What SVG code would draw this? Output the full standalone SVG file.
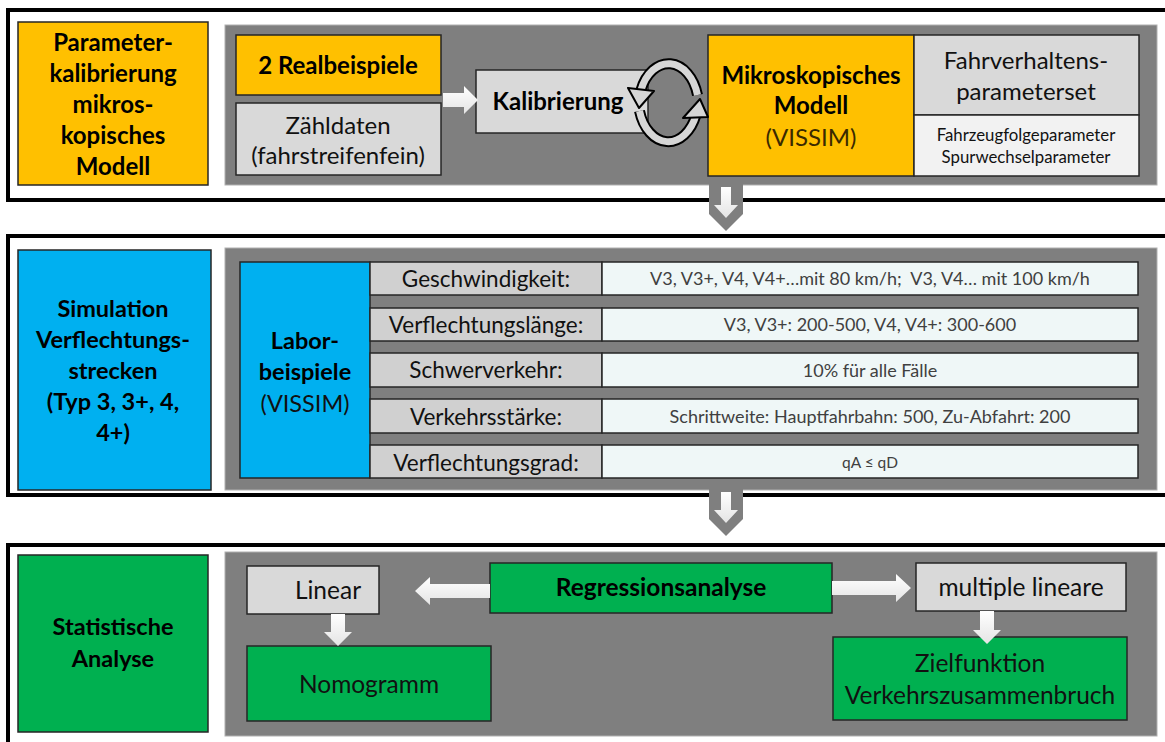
<svg xmlns="http://www.w3.org/2000/svg" width="1165" height="742" viewBox="0 0 1165 742">
<defs>
<linearGradient id="wg" x1="0" y1="0" x2="0" y2="1"><stop offset="0" stop-color="#ffffff"/><stop offset="1" stop-color="#e4e4e4"/></linearGradient>
</defs>
<style>
text{font-family:Lato,"Liberation Sans",sans-serif;text-anchor:middle;}
.b{font-weight:bold;fill:#000;font-size:24px;}
.r{fill:#111;font-size:24px;}
.border{fill:none;stroke:#000;stroke-width:4;}
.panel{fill:#7f7f7f;stroke:#b0b0b0;stroke-width:1;}
.box{stroke:#262626;stroke-width:1.5;}
.or{fill:#ffc000;}
.bl{fill:#00b0f0;}
.gr{fill:#00b050;}
.lg{fill:#d9d9d9;}
.vl{fill:#f2f2f2;}
.lab{fill:#d0d0d0;}
.val{fill:#eff7f7;}
.arr{fill:url(#wg);stroke:none;}
.lbl{font-size:22.5px;fill:#111;}
.vt{font-size:18px;fill:#404040;}
.s3{font-size:24.5px;}
.cyc{fill:none;stroke:#000;stroke-width:11;}
.cyi{fill:none;stroke:#d6d6d6;stroke-width:7;}
</style>

<!-- section borders -->
<g id="frames">
<rect class="border" x="8" y="10" width="1170" height="190"/>
<rect class="border" x="8" y="236" width="1170" height="259"/>
<rect class="border" x="8" y="545" width="1170" height="220"/>
</g>

<!-- panels -->
<g id="panels">
<rect class="panel" x="225" y="25" width="932" height="160"/>
<rect class="panel" x="225" y="248" width="932" height="242"/>
<rect class="panel" x="225" y="552" width="932" height="184"/>
</g>

<!-- Section 1 -->
<g id="n-param">
<rect class="box or" x="18" y="22" width="190" height="163"/>
<text class="b" x="113" y="51">Parameter-</text>
<text class="b" x="113" y="82">kalibrierung</text>
<text class="b" x="113" y="113">mikros-</text>
<text class="b" x="113" y="144">kopisches</text>
<text class="b" x="113" y="175">Modell</text>
</g>
<g id="n-real">
<rect class="box or" x="236" y="35" width="205" height="60"/>
<text class="b" x="338" y="74">2 Realbeispiele</text>
</g>
<g id="n-zaehl">
<rect class="box lg" x="236" y="103" width="205" height="72"/>
<text class="r" x="338" y="134">Zähldaten</text>
<text class="r" x="338" y="164">(fahrstreifenfein)</text>
</g>
<g id="n-kalib">
<rect class="box lg" x="476" y="70" width="172" height="63"/>
<text class="b" x="558" y="110">Kalibrierung</text>
</g>
<g id="n-mikro">
<rect class="box or" x="708" y="35" width="206" height="141"/>
<text class="b" x="811" y="84">Mikroskopisches</text>
<text class="b" x="811" y="114">Modell</text>
<text class="r" x="811" y="146" style="fill:#3a2a00">(VISSIM)</text>
</g>
<g id="n-fahrv">
<rect class="box lg" x="914" y="35" width="225" height="80"/>
<text class="r" x="1026" y="69">Fahrverhaltens-</text>
<text class="r" x="1026" y="100">parameterset</text>
</g>
<g id="n-fahrz">
<rect class="box vl" x="914" y="115" width="225" height="61"/>
<text x="1026" y="141" style="font-size:16.8px;fill:#111">Fahrzeugfolgeparameter</text>
<text x="1026" y="163" style="font-size:16.8px;fill:#111">Spurwechselparameter</text>
</g>

<!-- Section 2 -->
<g id="n-sim">
<rect class="box bl" x="18" y="250" width="193" height="240"/>
<text class="b" x="113" y="317" style="font-size:23.5px">Simulation</text>
<text class="b" x="113" y="348" style="font-size:23.5px">Verflechtungs-</text>
<text class="b" x="113" y="379" style="font-size:23.5px">strecken</text>
<text class="b" x="113" y="410" style="font-size:23.5px">(Typ 3, 3+, 4,</text>
<text class="b" x="113" y="441" style="font-size:23.5px">4+)</text>
</g>
<g id="n-labor">
<rect class="box bl" x="240" y="262" width="130" height="216"/>
<text class="b" x="305" y="349" style="font-size:23.5px">Labor-</text>
<text class="b" x="305" y="380" style="font-size:23.5px">beispiele</text>
<text class="r" x="305" y="412" style="font-size:23.5px">(VISSIM)</text>
</g>
<g id="n-row1">
<rect class="box lab" x="370" y="262" width="232" height="33"/>
<rect class="box val" x="602" y="262" width="536" height="33"/>
<text class="lbl" x="486" y="287">Geschwindigkeit:</text>
<text class="vt" x="870" y="285">V3, V3+, V4, V4+…mit 80 km/h;&#160; V3, V4… mit 100 km/h</text>
</g>
<g id="n-row2">
<rect class="box lab" x="370" y="308" width="232" height="33"/>
<rect class="box val" x="602" y="308" width="536" height="33"/>
<text class="lbl" x="486" y="333">Verflechtungslänge:</text>
<text class="vt" x="870" y="331">V3, V3+: 200-500, V4, V4+: 300-600</text>
</g>
<g id="n-row3">
<rect class="box lab" x="370" y="353" width="232" height="34"/>
<rect class="box val" x="602" y="353" width="536" height="34"/>
<text class="lbl" x="486" y="378">Schwerverkehr:</text>
<text class="vt" x="870" y="377">10% für alle Fälle</text>
</g>
<g id="n-row4">
<rect class="box lab" x="370" y="399" width="232" height="34"/>
<rect class="box val" x="602" y="399" width="536" height="34"/>
<text class="lbl" x="486" y="425">Verkehrsstärke:</text>
<text class="vt" x="870" y="423">Schrittweite: Hauptfahrbahn: 500, Zu-Abfahrt: 200</text>
</g>
<g id="n-row5">
<rect class="box lab" x="370" y="445" width="232" height="33"/>
<rect class="box val" x="602" y="445" width="536" height="33"/>
<text class="lbl" x="486" y="471">Verflechtungsgrad:</text>
<text class="vt" x="870" y="468" style="font-size:15.5px">qA ≤ qD</text>
</g>

<!-- Section 3 -->
<g id="n-stat">
<rect class="box gr" x="18" y="555" width="190" height="177"/>
<text class="b" x="113" y="635" style="font-size:23.5px">Statistische</text>
<text class="b" x="113" y="667" style="font-size:23.5px">Analyse</text>
</g>
<g id="n-linear">
<rect class="box lg" x="247" y="566" width="132" height="48"/>
<text class="r s3" x="328" y="599">Linear</text>
</g>
<g id="n-regr">
<rect class="box gr" x="490" y="563" width="342" height="50"/>
<text class="b s3" x="661" y="596">Regressionsanalyse</text>
</g>
<g id="n-multi">
<rect class="box lg" x="916" y="563" width="210" height="48"/>
<text class="r s3" x="1021" y="596">multiple lineare</text>
</g>
<g id="n-nomo">
<rect class="box gr" x="247" y="646" width="244" height="75"/>
<text class="r s3" x="369" y="693">Nomogramm</text>
</g>
<g id="n-ziel">
<rect class="box gr" x="833" y="637" width="294" height="83"/>
<text class="r s3" x="980" y="672">Zielfunktion</text>
<text class="r s3" x="980" y="704">Verkehrszusammenbruch</text>
</g>

<!-- connectors -->
<g id="connectors">
<!-- Realbeispiele -> Kalibrierung -->
<polygon class="arr" points="443,93 464,93 464,86 478,100 464,114 464,107 443,107"/>
<!-- cycle arrows -->
<path class="cyc" d="M 697.5 95 A 30 43 0 0 0 641 90"/>
<path class="cyi" d="M 697.5 95 A 30 43 0 0 0 641 90"/>
<polygon points="628,88 654,91 639,108" fill="#d6d6d6" stroke="#000" stroke-width="2" stroke-linejoin="round"/>
<path class="cyc" d="M 639.5 111 A 30 43 0 0 0 696 115"/>
<path class="cyi" d="M 639.5 111 A 30 43 0 0 0 696 115"/>
<polygon points="683,118 708,117 700,99" fill="#d6d6d6" stroke="#000" stroke-width="2" stroke-linejoin="round"/>
<!-- section down arrows -->
<polygon points="709,184 743,184 743,214 726,231 709,214" fill="#7f7f7f"/>
<polygon class="arr" points="721,187 731,187 731,205 738,205 726,218 714,205 721,205"/>
<polygon points="709,489 743,489 743,519 726,536 709,519" fill="#7f7f7f"/>
<polygon class="arr" points="721,492 731,492 731,510 738,510 726,523 714,510 721,510"/>
<!-- Regressionsanalyse -> Linear -->
<polygon class="arr" points="490,584 430,584 430,577 415,591 430,605 430,598 490,598"/>
<!-- Regressionsanalyse -> multiple lineare -->
<polygon class="arr" points="832,581 896,581 896,574 911,588 896,602 896,595 832,595"/>
<!-- Linear -> Nomogramm -->
<polygon class="arr" points="331,614 345,614 345,632 352,632 338,646 324,632 331,632"/>
<!-- multiple lineare -> Zielfunktion -->
<polygon class="arr" points="980,611 994,611 994,630 1001,630 987,644 973,630 980,630"/>
</g>
</svg>
